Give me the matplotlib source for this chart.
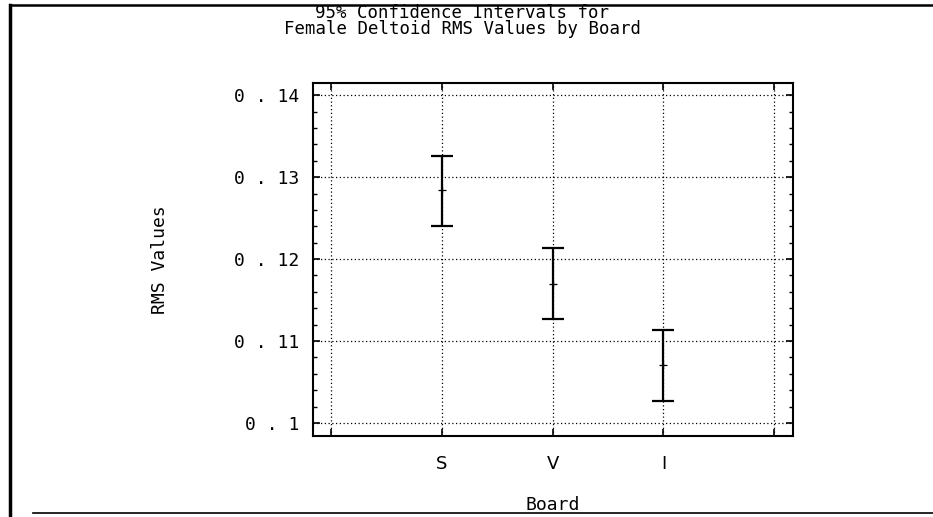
import matplotlib
matplotlib.use("Agg")
import matplotlib.pyplot as plt
from matplotlib.lines import Line2D
from matplotlib.ticker import MultipleLocator

# 95% confidence intervals per board
boards = ["S", "V", "I"]
means = [0.1284, 0.1170, 0.1071]
lower = [0.1241, 0.1127, 0.1027]
upper = [0.1326, 0.1213, 0.1113]
yticks = [0.10, 0.11, 0.12, 0.13, 0.14]
ytick_labels = ["0 . 1", "0 . 11", "0 . 12", "0 . 13", "0 . 14"]

W, H = 933, 517
plt.rcParams['font.family'] = ['DejaVu Sans Mono']
fig = plt.figure(figsize=(W / 100, H / 100), dpi=100)
ax = fig.add_axes([313 / W, 1 - 436 / H, 480 / W, 353 / H])

xs = list(range(1, len(boards) + 1))
err_lo = [m - lo for m, lo in zip(means, lower)]
err_hi = [hi - m for m, hi in zip(means, upper)]
ax.errorbar(xs, means, yerr=[err_lo, err_hi], fmt='none', ecolor='black',
            elinewidth=1.6, capsize=8, capthick=1.6, zorder=5)
ax.plot(xs, means, linestyle='none', marker='+', markersize=6,
        markeredgewidth=0.9, color='black', zorder=6)

ax.set_xlim(-0.163, 4.17)
ax.set_ylim(0.0984, 0.1415)
ax.set_xticks([0, 1, 2, 3, 4])
ax.set_xticklabels([""] + boards + [""], family='DejaVu Sans')
ax.set_yticks(yticks)
ax.set_yticklabels(ytick_labels)
ax.yaxis.set_minor_locator(MultipleLocator(0.002))

ax.grid(True, which='major', color='black', linestyle=(0, (1, 2)), linewidth=0.9)
ax.tick_params(axis='both', which='major', direction='in', length=5, width=1.2,
               top=True, right=True, labelsize=13, colors='black')
ax.tick_params(axis='y', which='minor', direction='in', length=3, width=1,
               left=True, right=True)
ax.tick_params(axis='x', which='major', pad=14)
ax.tick_params(axis='y', which='major', pad=10)
for side in ax.spines.values():
    side.set_linewidth(1.5)

ax.set_xlabel("Board", fontsize=13)
ax.set_ylabel("RMS Values", fontsize=13)
ax.xaxis.set_label_coords(0.5, -0.17)
ax.yaxis.set_label_coords(-0.3, 0.5)

fig.text(462 / W, 1 - 21 / H,
         "95% Confidence Intervals for\nFemale Deltoid RMS Values by Board",
         ha='center', va='center', fontsize=12.5, linespacing=0.9)

# page frame
fig.add_artist(Line2D([10 / W, 10 / W], [1 - 5 / H, 0], color='black', linewidth=2.5))
fig.add_artist(Line2D([10 / W, 1], [1 - 5 / H, 1 - 5 / H], color='black', linewidth=1.8))
fig.add_artist(Line2D([33 / W, 1], [1 - 513 / H, 1 - 513 / H], color='black', linewidth=1.2))

fig.savefig("out.png", dpi=100)
